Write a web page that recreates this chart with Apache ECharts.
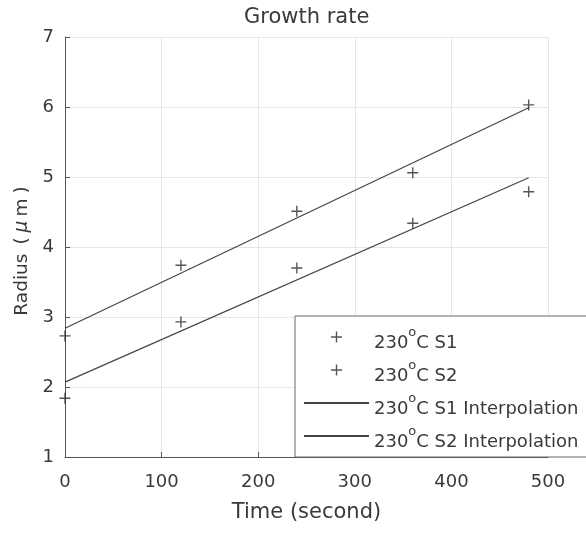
<!DOCTYPE html>
<html><head><meta charset="utf-8">
<script src="https://cdn.jsdelivr.net/npm/echarts@6/dist/echarts.min.js"></script>
<style>html,body{margin:0;padding:0;background:#fff}#c{width:586px;height:534px}</style>
</head><body><div id="c"></div>
<script>
// ---- data ----
const times = [0, 120, 240, 360, 480];
const s1Radius = [2.73, 3.74, 4.51, 5.06, 6.03];
const s2Radius = [1.84, 2.93, 3.70, 4.34, 4.79];
const fitTimes = [0, 480];
const s1Fit = [2.84, 5.99];
const s2Fit = [2.07, 4.99];
const seriesNames = ['230°C S1', '230°C S2', '230°C S1 Interpolation', '230°C S2 Interpolation'];
const xTicks = [0, 100, 200, 300, 400, 500];
const yTicks = [1, 2, 3, 4, 5, 6, 7];
const titleText = 'Growth rate';
const xName = 'Time (second)';
const yNameParts = ['Radius', '(', 'μ', 'm', ')'];

// ---- styling ----
const FONT = '"DejaVu Sans", sans-serif';
const TXT = '#3a3a3a';
const AX = '#555';
const GRIDC = '#e6e6e6';
const PLUS = 'path://M0,5L10,5M5,0L5,10';
const pair = (xs, ys) => xs.map((x, i) => [x, ys[i]]);
const plusStyle = { color: 'none', borderColor: '#2a2a2a', borderWidth: 1.4 };
const hiddenSym = { color: 'rgba(0,0,0,0)', borderWidth: 0, opacity: 0 };

const yName = `{r|${yNameParts[0]}}{p|${yNameParts[1]}}{mu|${yNameParts[2]}}{m|${yNameParts[3]}}{q|${yNameParts[4]}}`;
const yFont = { fontFamily: FONT, fontSize: 18.5, color: TXT };

const axisCommon = {
  type: 'value',
  axisLine: { show: true, onZero: false, lineStyle: { color: AX, width: 1 } },
  axisTick: { show: true, inside: true, length: 5, lineStyle: { color: AX, width: 1 } },
  splitLine: { show: true, lineStyle: { color: GRIDC, width: 1 } },
  minorTick: { show: false }
};

const chart = echarts.init(document.getElementById('c'), null, { renderer: 'canvas' });
chart.setOption({
  animation: false,
  backgroundColor: '#fff',
  title: {
    text: titleText, left: 239, top: 2,
    textStyle: { fontFamily: FONT, fontSize: 21, fontWeight: 'normal', color: TXT }
  },
  grid: { left: 65, right: 38, top: 37, bottom: 77, containLabel: false, outerBoundsMode: 'none' },
  xAxis: Object.assign({}, axisCommon, {
    min: xTicks[0], max: xTicks[xTicks.length - 1], interval: xTicks[1] - xTicks[0],
    name: xName, nameLocation: 'middle', nameGap: 45,
    nameTextStyle: { fontFamily: FONT, fontSize: 21, color: TXT },
    axisLabel: { margin: 16, fontFamily: FONT, fontSize: 18, color: TXT }
  }),
  yAxis: Object.assign({}, axisCommon, {
    min: yTicks[0], max: yTicks[yTicks.length - 1], interval: yTicks[1] - yTicks[0],
    name: yName, nameLocation: 'middle', nameGap: 26,
    nameTextStyle: Object.assign({}, yFont, {
      rich: {
        r: Object.assign({}, yFont),
        p: Object.assign({}, yFont, { padding: [0, 5, 0, 9] }),
        mu: Object.assign({}, yFont, { fontStyle: 'italic', padding: [0, 4, 0, 0] }),
        m: Object.assign({}, yFont, { padding: [0, 5, 0, 0] }),
        q: Object.assign({}, yFont, { padding: [0, 8, 0, 0] })
      }
    }),
    axisLabel: { margin: 11, fontFamily: FONT, fontSize: 18, color: TXT }
  }),
  legend: {
    orient: 'vertical', left: 295, top: 316,
    padding: [6, 20, 6, 8], itemGap: 3, itemWidth: 65, itemHeight: 11,
    backgroundColor: '#fff', borderColor: '#666', borderWidth: 1, borderRadius: 0,
    selectedMode: false,
    data: [
      { name: seriesNames[0], icon: PLUS, itemStyle: plusStyle },
      { name: seriesNames[1], icon: PLUS, itemStyle: plusStyle },
      { name: seriesNames[2], itemStyle: hiddenSym },
      { name: seriesNames[3], itemStyle: hiddenSym }
    ],
    formatter: function (n) {
      const parts = n.split('°');
      return '{b|' + parts[0] + '}{s|o}{b|' + parts[1] + '}';
    },
    textStyle: {
      fontFamily: FONT, fontSize: 18, color: TXT,
      rich: {
        b: { fontFamily: FONT, fontSize: 18, color: TXT, lineHeight: 14, padding: [12, 0, 0, 0] },
        s: { fontFamily: FONT, fontSize: 13, color: TXT, lineHeight: 10, padding: [0, 0, 9, 0] }
      }
    }
  },
  series: [
    { name: seriesNames[0], type: 'scatter', data: pair(times, s1Radius), symbol: PLUS, symbolSize: 11, itemStyle: plusStyle, z: 3 },
    { name: seriesNames[1], type: 'scatter', data: pair(times, s2Radius), symbol: PLUS, symbolSize: 11, itemStyle: plusStyle, z: 3 },
    { name: seriesNames[2], type: 'line', data: pair(fitTimes, s1Fit), symbol: 'none', lineStyle: { color: '#444', width: 1.2 }, itemStyle: { color: '#444' } },
    { name: seriesNames[3], type: 'line', data: pair(fitTimes, s2Fit), symbol: 'none', lineStyle: { color: '#444', width: 1.2 }, itemStyle: { color: '#444' } }
  ]
});
</script>
</body></html>
